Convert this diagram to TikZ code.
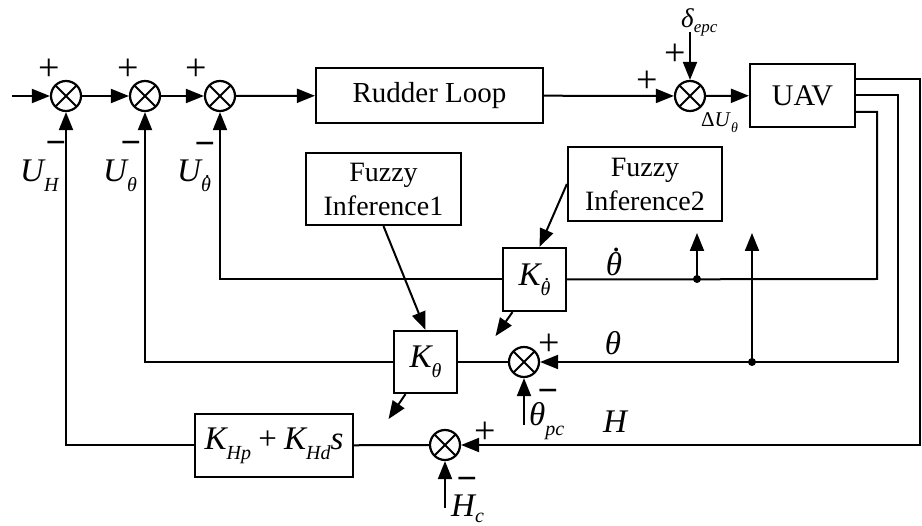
\documentclass[tikz,border=0pt]{standalone}
\usepackage{fontspec}
\setmainfont{Liberation Serif}
\usetikzlibrary{arrows.meta}

% dotted theta
\newcommand\thd{\ooalign{θ\cr\hfil\kern0.14em\raisebox{0.72em}{\upshape .}\hfil\cr}}
% lowered, smaller subscript
\newcommand\sbs[2][0.3em]{\raisebox{-#1}{\fontsize{20}{20}\selectfont\itshape #2}}

\tikzset{
  wire/.style={line width=2pt},
  arr/.style={wire,-{Triangle[length=18pt,width=14pt]}},
  blk/.style={draw,line width=2.2pt,inner sep=0pt},
  sum/.style={circle,draw,line width=2.2pt,minimum size=30pt,inner sep=0pt,
    path picture={\draw[line width=2pt]
      (path picture bounding box.north west)--(path picture bounding box.south east)
      (path picture bounding box.north east)--(path picture bounding box.south west);}},
  txt/.style={font=\fontsize{29}{34}\selectfont,align=center},
  ml/.style={font=\fontsize{33}{33}\selectfont\itshape,inner sep=0pt},
  sg/.style={font=\fontsize{38}{38}\selectfont,inner sep=0pt},
  mn/.style={font=\fontsize{36}{36}\selectfont\bfseries,inner sep=0pt,yshift=-7pt},
}

\begin{document}
\begin{tikzpicture}[x=1pt,y=-1pt]
\useasboundingbox (0,0) rectangle (922,526);

% summing junctions
\node[sum] (s1) at (66,96) {};
\node[sum] (s2) at (145,96) {};
\node[sum] (s3) at (220,96) {};
\node[sum] (s4) at (690,96) {};
\node[sum] (sT) at (524,362) {};
\node[sum] (sH) at (445,445) {};

% blocks
\node[blk,txt,minimum width=227pt,minimum height=55pt] (rud) at (429.5,95.5) {Rudder Loop};
\node[blk,font=\fontsize{30}{30}\selectfont,minimum width=105pt,minimum height=63pt] (uav) at (802.5,95.5) {UAV};
\node[blk,txt,font=\fontsize{28}{34}\selectfont,minimum width=155pt,minimum height=72pt] (fz1) at (383.5,189) {Fuzzy\\Inference1};
\node[blk,txt,font=\fontsize{28}{34}\selectfont,minimum width=154pt,minimum height=74pt] (fz2) at (645,184) {Fuzzy\\Inference2};
\node[blk,ml,minimum width=63pt,minimum height=63pt] (kd) at (534.5,279.5) {K\sbs{\thd}};
\node[blk,ml,minimum width=63pt,minimum height=62pt] (kt) at (425.5,362) {K\sbs{θ}};
\node[blk,ml,minimum width=158pt,minimum height=63pt] (kh) at (274,445.5)
  {K\sbs{Hp}\hspace{0.22em}{\upshape+}\hspace{0.22em}K\sbs{Hd}s};

% free ends
\coordinate (in) at (12,96);
\coordinate (dl) at (690,32);
\coordinate (tpc) at (524,425);
\coordinate (hc) at (445,508);
\coordinate (cH) at (920,445);
\coordinate (cT) at (898,362);
\coordinate (cD) at (877,279);
\coordinate (j1) at (697,279);
\coordinate (j2) at (752,362);
\coordinate (t1) at (697,233);
\coordinate (t2) at (752,233);

% forward path
\draw[arr] (in) -- (s1);
\draw[arr] (s1) -- (s2);
\draw[arr] (s2) -- (s3);
\draw[arr] (s3) -- (rud);
\draw[arr] (rud) -- (s4);
\draw[arr] (s4) -- (uav);
\draw[arr] (dl) -- (s4.north);

% H feedback
\draw[arr] (uav.east |- 0,79) -- (920,79) -- (cH) -- (sH.east);
\draw[wire] (sH) -- (kh);
\draw[arr] (kh.west) -| (s1.south);
\draw[arr] (hc) -- (sH.south);

% theta feedback
\draw[arr] (uav.east) -- (898,95.5) -- (cT) -- (sT.east);
\draw[wire] (sT) -- (kt);
\draw[arr] (kt.west) -| (s2.south);
\draw[arr] (tpc) -- (sT.south);

% theta-dot feedback
\draw[wire] (uav.east |- 0,112) -- (877,112) -- (cD) -- (kd.east);
\draw[arr] (kd.west) -| (s3.south);

% branches to the fuzzy blocks
\fill (j1) circle (4pt);
\fill (j2) circle (4pt);
\draw[arr] (j1) -- (t1);
\draw[arr] (j2) -- (t2);

% gain scheduling
\draw[arr] (fz1.south) -- (kt.north);
\draw[arr] (fz2.west) -- ([xshift=5pt]kd.north);
\draw[arr] ([xshift=-22pt]kd.south) -- ++(-17,24);
\draw[arr] ([xshift=-20pt]kt.south) -- ++(-17,25);

% signs
\node[sg] (p1) at (49,70) {+};
\node[sg] (p2) at (128,70) {+};
\node[sg] (p3) at (196,70) {+};
\node[sg] (p4) at (647,82) {+};
\node[sg] (p5) at (675,55) {+};
\node[sg] (p6) at (549,345) {+};
\node[sg] (p7) at (485,433) {+};
\node[mn] (m1) at (56,141) {−};
\node[mn] (m2) at (131,141) {−};
\node[mn] (m3) at (205,142) {−};
\node[mn] (m4) at (548,389) {−};
\node[mn] (m5) at (467,477) {−};

% signal labels
\node[ml,anchor=base west] (lUH) at (20,182) {U\sbs{H}};
\node[ml,anchor=base west] (lUT) at (103,182) {U\sbs{θ}};
\node[ml,anchor=base west] (lUD) at (177,182) {U\sbs{\thd}};
\node[ml] (lTD) at (614,264) {\thd};
\node[ml] (lT) at (613,343) {θ};
\node[ml] (lH) at (615,422) {H};
\node[ml,anchor=base west] (lTpc) at (529,426) {θ\sbs{pc}};
\node[ml,anchor=base west] (lHc) at (451,517) {H\sbs[0.18em]{c}};
\node[inner sep=0pt,anchor=base west,font=\fontsize{27}{27}\selectfont\itshape] (lde) at (681,28)
  {δ\raisebox{-0.15em}{\fontsize{17}{17}\selectfont epc}};
\node[inner sep=0pt,anchor=base west,font=\fontsize{21}{21}\selectfont] (ldu) at (701,127)
  {Δ\textit{U}\raisebox{-0.25em}{\fontsize{14}{14}\selectfont\itshape θ}};
\end{tikzpicture}
\end{document}
